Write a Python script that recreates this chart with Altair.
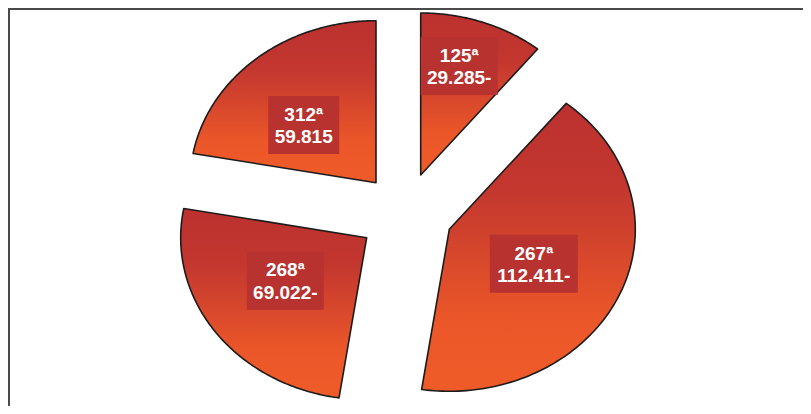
import altair as alt
import pandas as pd

# ---- data ----
ranks = ["125ª", "267ª", "268ª", "312ª"]
values = [29.285, 112.411, 69.022, 59.815]
value_texts = ["29.285-", "112.411-", "69.022-", "59.815"]

# ---- layout (page pixel units) ----
W, H = 795, 398
CX, CY = 408.0, 206.0          # pie centre
RX, RY = 186.0, 162.0          # elliptical (tilted) pie radii
explode_dx = [12.7, 41.3, -41.3, -32.0]
explode_dy = [-31.0, 23.3, 31.7, -23.3]
label_dx = [38.5, 84.5, -81.4, -72.3]
label_dy = [-109.0, 34.5, 43.0, -57.7]
box_w = [77, 88, 77, 71]
BOX_H = 58
LINE_H = 22.5
N = 120

df = pd.DataFrame({
    "idx": list(range(len(values))),
    "rank": ranks,
    "value": values,
    "vtext": value_texts,
    "edx": explode_dx,
    "edy": explode_dy,
    "ldx": label_dx,
    "ldy": label_dy,
    "bw": box_w,
})

xs = alt.Scale(domain=[8, 8 + W])
ys = alt.Scale(domain=[8, 8 + H], reverse=True)

grad = alt.LinearGradient(
    gradient="linear", x1=0, x2=0, y1=0, y2=1,
    stops=[
        alt.GradientStop(color="#BC312F", offset=0),
        alt.GradientStop(color="#C3372F", offset=0.3),
        alt.GradientStop(color="#EB5729", offset=0.75),
        alt.GradientStop(color="#EF5B28", offset=1),
    ],
)

base = alt.Chart(df).transform_window(
    cum="sum(value)", sort=[alt.SortField("idx")]
).transform_joinaggregate(
    total="sum(value)"
).transform_calculate(
    t0="2*PI*(datum.cum-datum.value)/datum.total",
    t1="2*PI*datum.cum/datum.total",
    ax=f"{CX}+datum.edx",
    ay=f"{CY}+datum.edy",
)

outline = base.transform_calculate(
    k=f"sequence(0,{N + 1})"
).transform_flatten(["k"]).transform_calculate(
    t=f"datum.t0+(datum.t1-datum.t0)*(datum.k-1)/{N - 1}",
    px=f"datum.k==0 ? datum.ax : datum.ax+{RX}*sin(datum.t)",
    py=f"datum.k==0 ? datum.ay : datum.ay-{RY}*cos(datum.t)",
).mark_line(
    interpolate="linear-closed", fill=grad, stroke="#1c1c1c",
    strokeWidth=1.6, strokeJoin="round"
).encode(
    x=alt.X("px:Q", scale=xs, axis=None),
    y=alt.Y("py:Q", scale=ys, axis=None),
    detail="idx:N",
    order="k:Q",
)

lab = base.transform_calculate(
    lx="datum.ax+datum.ldx",
    ly="datum.ay+datum.ldy",
    bx0="datum.ax+datum.ldx-datum.bw/2",
    bx1="datum.ax+datum.ldx+datum.bw/2",
    by0=f"datum.ay+datum.ldy-{BOX_H}/2",
    by1=f"datum.ay+datum.ldy+{BOX_H}/2",
    txt="datum.rank+'\\n'+datum.vtext",
)

boxes = lab.mark_rect(color="#B83230").encode(
    x=alt.X("bx0:Q", scale=xs, axis=None), x2="bx1:Q",
    y=alt.Y("by0:Q", scale=ys, axis=None), y2="by1:Q",
)

texts = lab.mark_text(
    lineBreak="\n", font="Liberation Sans", fontWeight="bold", fontSize=19,
    color="white", lineHeight=LINE_H, align="center", baseline="middle",
    dy=-LINE_H / 2 + 1,
).encode(
    x=alt.X("lx:Q", scale=xs, axis=None),
    y=alt.Y("ly:Q", scale=ys, axis=None),
    text="txt:N",
)

frame_src = pd.DataFrame({"f": [0]})
frame_top = alt.Chart(frame_src).mark_rule(color="#4a4a4a", strokeWidth=2).encode(
    x=alt.value(0), x2=alt.value(W), y=alt.value(1)
)
frame_left = alt.Chart(frame_src).mark_rule(color="#4a4a4a", strokeWidth=2).encode(
    x=alt.value(1), y=alt.value(0), y2=alt.value(H)
)

chart = alt.layer(frame_top, frame_left, outline, boxes, texts).properties(
    width=W, height=H, padding=0, autosize=alt.AutoSizeParams(type="none")
).configure_view(stroke=None)

chart.save("out.html", embed_options={"renderer": "svg", "actions": False})
